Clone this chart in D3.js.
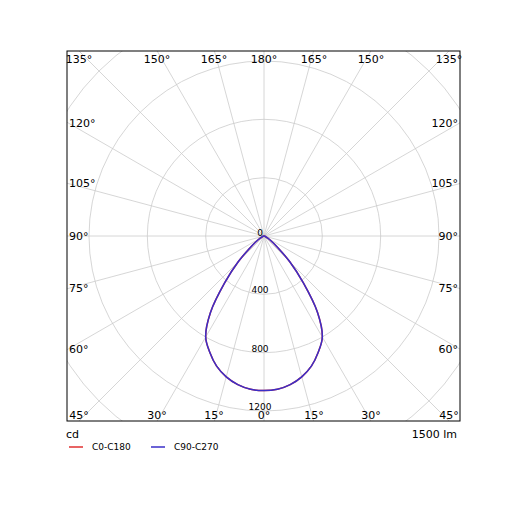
<!DOCTYPE html>
<html><head><meta charset="utf-8">
<script src="https://cdn.jsdelivr.net/npm/d3@7"></script>
<style>body{margin:0;background:#fff}text{font-family:"DejaVu Sans",sans-serif}</style>
</head><body>
<script>
// gamma angles (deg) and intensity (cd), same curve mirrored on both sides
var angles = [0, 5, 10, 15, 20, 25, 30, 35, 40, 45, 50, 55, 60, 70, 80, 90];
var c0 = [1060, 1055, 1035, 1000, 950, 880, 800, 640, 420, 250, 120, 60, 30, 10, 3, 0];
var c90 = [1060, 1055, 1035, 1000, 950, 880, 800, 640, 420, 250, 120, 60, 30, 10, 3, 0];
var rings = [400, 800, 1200, 1600];
var ringLabels = [0, 400, 800, 1200];

var W = 515, H = 515, cx = 264, cy = 236;
var box = {x0: 67, y0: 51, x1: 460, y1: 421};
var r = d3.scaleLinear().domain([0, 1200]).range([0, 175]);

var svg = d3.select("body").append("svg").attr("width", W).attr("height", H);
svg.append("clipPath").attr("id", "clip").append("rect")
   .attr("x", box.x0).attr("y", box.y0).attr("width", box.x1 - box.x0).attr("height", box.y1 - box.y0);
var g = svg.append("g").attr("clip-path", "url(#clip)");

rings.forEach(function(v) {
    g.append("circle").attr("cx", cx).attr("cy", cy).attr("r", r(v))
     .attr("fill", "none").attr("stroke", "#ccc").attr("stroke-width", 0.8);
});
for (var a = 0; a < 360; a += 15) {
    var t = a * Math.PI / 180;
    g.append("line").attr("x1", cx).attr("y1", cy)
     .attr("x2", cx + 600 * Math.sin(t)).attr("y2", cy + 600 * Math.cos(t))
     .attr("stroke", "#ccc").attr("stroke-width", 0.8);
}

// full closed curve: left side then right side
function curvePts(vals) {
    var pts = [];
    for (var i = angles.length - 1; i >= 0; i--) pts.push([-angles[i], vals[i]]);
    for (var j = 1; j < angles.length; j++) pts.push([angles[j], vals[j]]);
    return pts;
}
var line = d3.line()
    .x(function(d) { return cx + r(d[1]) * Math.sin(d[0] * Math.PI / 180); })
    .y(function(d) { return cy + r(d[1]) * Math.cos(d[0] * Math.PI / 180); })
    .curve(d3.curveCatmullRom);
g.append("path").attr("d", line(curvePts(c0))).attr("fill", "none").attr("stroke", "#e03030").attr("stroke-width", 1.5);
g.append("path").attr("d", line(curvePts(c90))).attr("fill", "none").attr("stroke", "#3a2fc8").attr("stroke-width", 1.5);

svg.append("rect").attr("x", box.x0).attr("y", box.y0).attr("width", box.x1 - box.x0).attr("height", box.y1 - box.y0)
   .attr("fill", "none").attr("stroke", "#000").attr("stroke-width", 1);

ringLabels.forEach(function(v) {
    svg.append("text").attr("x", cx - 4).attr("y", cy + r(v) + (v === 0 ? 0 : -1)).attr("text-anchor", "middle")
       .attr("font-size", 9).text(v);
});

// angle labels
var lab = function(x, y, s, anchor) {
    svg.append("text").attr("x", x).attr("y", y).attr("text-anchor", anchor || "middle").attr("font-size", 11).text(s);
};
[["135°", 79], ["150°", 157], ["165°", 214], ["180°", 264], ["165°", 314], ["150°", 371], ["135°", 449]].forEach(function(d) { lab(d[1], 63, d[0]); });
[["45°", 79], ["30°", 157], ["15°", 214], ["0°", 264], ["15°", 314], ["30°", 371], ["45°", 449]].forEach(function(d) { lab(d[1], 419, d[0]); });
[["120°", 127], ["105°", 187], ["90°", 240], ["75°", 292], ["60°", 353]].forEach(function(d) {
    lab(69, d[1], d[0], "start"); lab(458, d[1], d[0], "end");
});

svg.append("text").attr("x", 66).attr("y", 438).attr("font-size", 11).text("cd");
svg.append("text").attr("x", 457).attr("y", 438).attr("text-anchor", "end").attr("font-size", 11).text("1500 lm");
var legend = [["C0-C180", "#e03030", 69], ["C90-C270", "#3a2fc8", 151]];
legend.forEach(function(d) {
    svg.append("line").attr("x1", d[2]).attr("x2", d[2] + 14).attr("y1", 447).attr("y2", 447).attr("stroke", d[1]).attr("stroke-width", 1.5);
    svg.append("text").attr("x", d[2] + 23).attr("y", 450).attr("font-size", 9).text(d[0]);
});
</script>
</body></html>
